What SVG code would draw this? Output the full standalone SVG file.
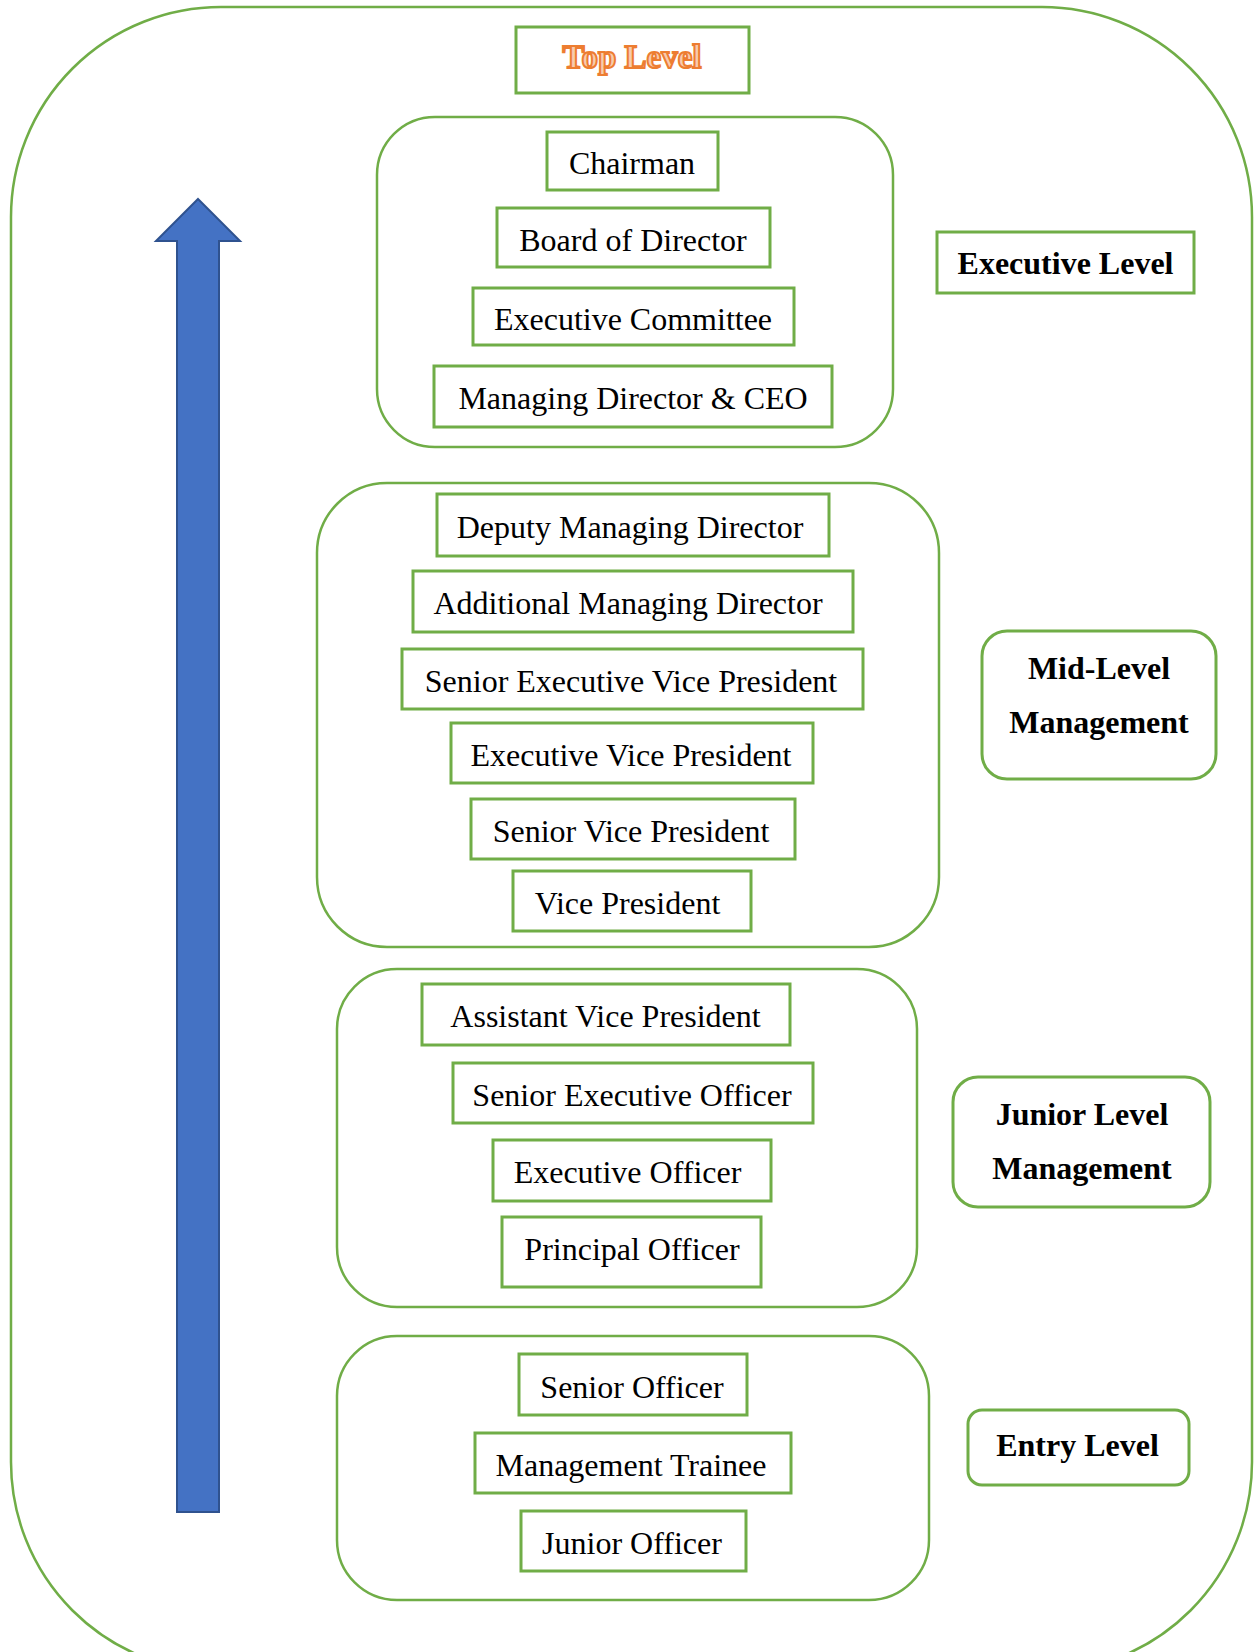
<svg xmlns="http://www.w3.org/2000/svg" width="1254" height="1652" viewBox="0 0 1254 1652">
<style>
.frame{fill:none;stroke:#70AD47;stroke-width:2.5}
.box{fill:#fff;stroke:#70AD47;stroke-width:3}
.grp{fill:none;stroke:#70AD47;stroke-width:2.5}
.t{font-family:"Liberation Serif","Times New Roman",serif;font-size:32px;fill:#000;text-anchor:middle}
.b{font-weight:bold}
.top{font-family:"Liberation Serif","Times New Roman",serif;font-size:33px;font-weight:bold;text-anchor:middle;fill:#F8CBAD;stroke:#ED7D31;stroke-width:2}
</style>
<rect width="1254" height="1652" fill="#fff"/>
<rect id="outer" class="frame" x="11" y="7" width="1241" height="1665" rx="210" ry="210"/>

<g id="connectors">
  <polygon id="hierarchy-arrow" points="198,199 240,241 219,241 219,1512 177,1512 177,241 156,241" fill="#4472C4" stroke="#2F528F" stroke-width="2"/>
</g>

<g id="top-level">
  <rect class="box" x="516" y="27" width="233" height="66"/>
  <text class="top" x="632" y="68">Top Level</text>
</g>

<g id="executive-group">
  <rect class="grp" x="377" y="117" width="516" height="330" rx="58" ry="58"/>
  <g id="chairman"><rect class="box" x="547" y="132" width="171" height="58"/><text class="t" x="632" y="174">Chairman</text></g>
  <g id="board-of-director"><rect class="box" x="497" y="208" width="273" height="59"/><text class="t" x="633" y="250.5">Board of Director</text></g>
  <g id="executive-committee"><rect class="box" x="473" y="288" width="321" height="57"/><text class="t" x="633" y="330">Executive Committee</text></g>
  <g id="md-ceo"><rect class="box" x="434" y="366" width="398" height="61"/><text class="t" x="633" y="408.5">Managing Director &amp; CEO</text></g>
</g>
<g id="executive-level"><rect class="box" x="937" y="232" width="257" height="61"/><text class="t b" x="1065.5" y="274">Executive Level</text></g>

<g id="mid-group">
  <rect class="grp" x="317" y="483" width="622" height="464" rx="70" ry="70"/>
  <g id="deputy-md"><rect class="box" x="437" y="494" width="392" height="62"/><text class="t" x="630" y="537.5">Deputy Managing Director</text></g>
  <g id="additional-md"><rect class="box" x="413" y="571" width="440" height="61"/><text class="t" x="628" y="613.5">Additional Managing Director</text></g>
  <g id="senior-evp"><rect class="box" x="402" y="649" width="461" height="60"/><text class="t" x="631" y="691.5">Senior Executive Vice President</text></g>
  <g id="evp"><rect class="box" x="451" y="723" width="362" height="60"/><text class="t" x="631" y="765.5">Executive Vice President</text></g>
  <g id="svp"><rect class="box" x="471" y="799" width="324" height="60"/><text class="t" x="631" y="841.5">Senior Vice President</text></g>
  <g id="vp"><rect class="box" x="513" y="871" width="238" height="60"/><text class="t" x="627.5" y="913.5">Vice President</text></g>
</g>
<g id="mid-level"><rect class="box" x="982" y="631" width="234" height="148" rx="25" ry="25"/><text class="t b" x="1099" y="679">Mid-Level</text><text class="t b" x="1099" y="733">Management</text></g>

<g id="junior-group">
  <rect class="grp" x="337" y="969" width="580" height="338" rx="60" ry="60"/>
  <g id="avp"><rect class="box" x="422" y="984" width="368" height="61"/><text class="t" x="605.5" y="1026.5">Assistant Vice President</text></g>
  <g id="seo"><rect class="box" x="453" y="1063" width="360" height="60"/><text class="t" x="632" y="1105.5">Senior Executive Officer</text></g>
  <g id="eo"><rect class="box" x="493" y="1140" width="278" height="61"/><text class="t" x="627.5" y="1182.5">Executive Officer</text></g>
  <g id="po"><rect class="box" x="502" y="1217" width="259" height="70"/><text class="t" x="632" y="1259.5">Principal Officer</text></g>
</g>
<g id="junior-level"><rect class="box" x="953" y="1077" width="257" height="130" rx="25" ry="25"/><text class="t b" x="1082" y="1125">Junior Level</text><text class="t b" x="1082" y="1179">Management</text></g>

<g id="entry-group">
  <rect class="grp" x="337" y="1336" width="592" height="264" rx="60" ry="60"/>
  <g id="senior-officer"><rect class="box" x="519" y="1354" width="228" height="61"/><text class="t" x="632" y="1397.5">Senior Officer</text></g>
  <g id="management-trainee"><rect class="box" x="475" y="1433" width="316" height="60"/><text class="t" x="631" y="1475.5">Management Trainee</text></g>
  <g id="junior-officer"><rect class="box" x="521" y="1511" width="225" height="60"/><text class="t" x="632" y="1553.5">Junior Officer</text></g>
</g>
<g id="entry-level"><rect class="box" x="968" y="1410" width="221" height="75" rx="14" ry="14"/><text class="t b" x="1077.5" y="1456">Entry Level</text></g>
</svg>
